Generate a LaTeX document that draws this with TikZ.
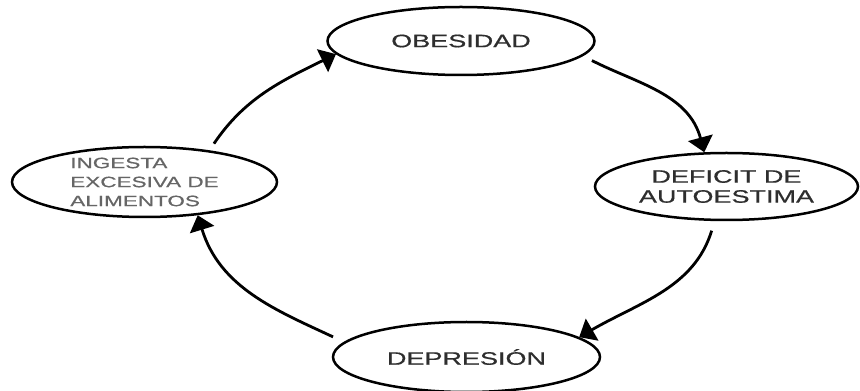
\documentclass[tikz,border=0pt]{standalone}
\usepackage{fontspec}
\usepackage{xcolor}
\usepackage{tikz}
\usetikzlibrary{shapes.geometric, arrows.meta}
\newfontfamily\ciclofont[FakeStretch=1.5, FakeBold=0.6]{Liberation Sans}

\begin{document}
\begin{tikzpicture}[x=1pt, y=1pt,
  estado/.style={ellipse, draw, line width=2.5pt, inner sep=0pt, text=black!82,
    font=\ciclofont\fontsize{18}{20}\selectfont},
  flecha/.style={-{Triangle[length=15pt, width=25pt]}, line width=2.8pt}]
  \useasboundingbox (0,0) rectangle (860,391);
  \fill[white] (0,0) rectangle (860,391);
  \node (obesidad) [estado, minimum width=267pt, minimum height=68pt] at (461,350) {OBESIDAD};
  \node (ingesta) [estado, minimum width=265pt, minimum height=70pt, align=left, text=black!60,
    font=\ciclofont\fontsize{15}{19}\selectfont] at (144.5,209) {INGESTA\\EXCESIVA DE\\ALIMENTOS};
  \node (deficit) [estado, minimum width=263pt, minimum height=67pt, align=center] at (726.5,204.5) {DEFICIT DE\\AUTOESTIMA};
  \node (depresion) [estado, minimum width=267pt, minimum height=70pt] at (466.5,34) {DEPRESIÓN};
  % ciclo
  \draw[flecha, shorten <=8pt] (ingesta.26) to[out=56, in=206] (obesidad.186);
  \draw[flecha, shorten <=10pt] (obesidad.-7) to[out=-27, in=105] (deficit.123);
  \draw[flecha, shorten <=10pt] (deficit.-109) to[out=-107, in=30] (depresion.10);
  \draw[flecha, shorten <=12pt] (depresion.173) to[out=155, in=-73] (ingesta.-32);
\end{tikzpicture}
\end{document}
